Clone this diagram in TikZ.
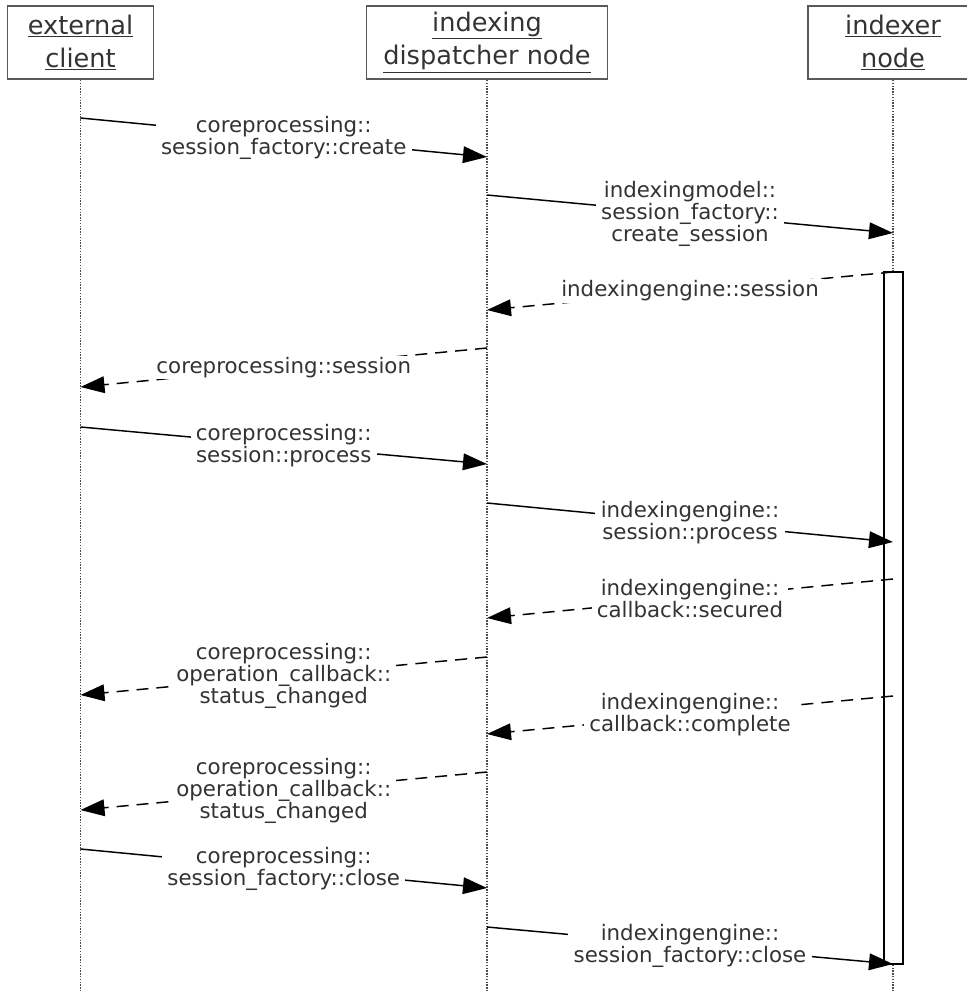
\documentclass[tikz,border=0pt]{standalone}
\usepackage{fontspec}
\setmainfont{DejaVu Sans}
\usetikzlibrary{arrows.meta}

\tikzset{
  head/.style={draw=black!65, line width=1.4pt, fill=white, text=black!80, align=center,
    font=\fontsize{19.2}{25}\selectfont, minimum height=54.75pt, inner sep=0pt},
  lifeline/.style={densely dotted, draw=black!70, line width=1.1pt},
  call/.style={-{Triangle[length=18pt,width=12.5pt]}, line width=1.1pt},
  reply/.style={call, dash pattern=on 9pt off 6pt},
  lbl/.style={fill=white, text=black!80, align=center, inner xsep=4pt, inner ysep=1pt,
    font=\fontsize{16}{16.5}\selectfont}
}

\begin{document}
\begin{tikzpicture}[x=0.75pt, y=-0.75pt]
  \useasboundingbox (0,0) rectangle (967,993);

  % participants
  \node[head, minimum width=109.5pt] (ext) at (80.5,42.5) {\underline{external}\\\underline{client}};
  \node[head, minimum width=180.75pt] (disp) at (487,42.5) {\underline{indexing}\\\underline{dispatcher node}};
  \node[head, minimum width=127.5pt] (idx) at (893,42.5) {\underline{indexer}\\\underline{node}};

  \coordinate (extend) at (80.5,993);
  \coordinate (dispend) at (487,993);
  \coordinate (idxend) at (893,993);

  \draw[lifeline] (ext) -- (extend);
  \draw[lifeline] (disp) -- (dispend);
  \draw[lifeline] (idx) -- (idxend);

  % activation of the indexer
  \draw[fill=white, line width=1.1pt] (884,272) rectangle (903,964);

  % message end points
  \coordinate (m1a) at (80.5,118);  \coordinate (m1b) at (487,157);
  \coordinate (m2a) at (487,195);   \coordinate (m2b) at (893,233);
  \coordinate (m3a) at (893,272);   \coordinate (m3b) at (487,310);
  \coordinate (m4a) at (487,348);   \coordinate (m4b) at (80.5,387);
  \coordinate (m5a) at (80.5,427);  \coordinate (m5b) at (487,464);
  \coordinate (m6a) at (487,503);   \coordinate (m6b) at (893,542);
  \coordinate (m7a) at (893,579);   \coordinate (m7b) at (487,618);
  \coordinate (m8a) at (487,657);   \coordinate (m8b) at (80.5,695);
  \coordinate (m9a) at (893,696);   \coordinate (m9b) at (487,734);
  \coordinate (m10a) at (487,772);  \coordinate (m10b) at (80.5,810);
  \coordinate (m11a) at (80.5,849); \coordinate (m11b) at (487,888);
  \coordinate (m12a) at (487,927);  \coordinate (m12b) at (893,964);

  % messages
  \draw[call] (m1a) -- node[lbl] {coreprocessing::\\session\_factory::create} (m1b);
  \draw[call] (m2a) -- node[lbl] {indexingmodel::\\session\_factory::\\create\_session} (m2b);
  \draw[reply] (m3a) -- node[lbl] {indexingengine::session} (m3b);
  \draw[reply] (m4a) -- node[lbl] {coreprocessing::session} (m4b);
  \draw[call] (m5a) -- node[lbl] {coreprocessing::\\session::process} (m5b);
  \draw[call] (m6a) -- node[lbl] {indexingengine::\\session::process} (m6b);
  \draw[reply] (m7a) -- node[lbl] {indexingengine::\\callback::secured} (m7b);
  \draw[reply] (m8a) -- node[lbl] {coreprocessing::\\operation\_callback::\\status\_changed} (m8b);
  \draw[reply] (m9a) -- node[lbl] {indexingengine::\\callback::complete} (m9b);
  \draw[reply] (m10a) -- node[lbl] {coreprocessing::\\operation\_callback::\\status\_changed} (m10b);
  \draw[call] (m11a) -- node[lbl] {coreprocessing::\\session\_factory::close} (m11b);
  \draw[call] (m12a) -- node[lbl] {indexingengine::\\session\_factory::close} (m12b);

\end{tikzpicture}
\end{document}
